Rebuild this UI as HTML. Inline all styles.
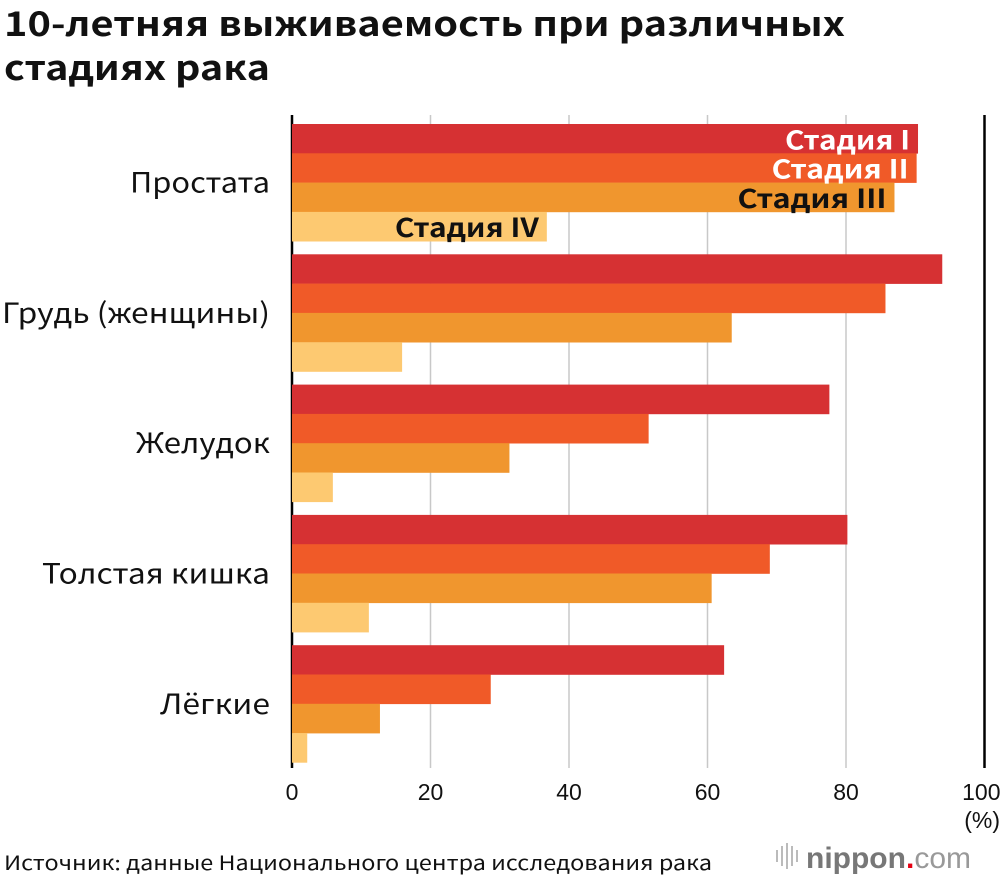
<!DOCTYPE html>
<html><head><meta charset="utf-8"><style>
body{margin:0;background:#fff;font-family:"Liberation Sans","DejaVu Sans",sans-serif;}
#wrap{position:relative;width:1000px;height:880px;overflow:hidden}
.n{font-family:"Noto Sans CJK JP","DejaVu Sans",sans-serif}
</style></head><body>
<div id="wrap">
<svg id="svg" width="1000" height="880">
<text class="n" x="4" y="36" font-size="34" font-weight="bold" fill="#111" textLength="841" lengthAdjust="spacingAndGlyphs">10-летняя выживаемость при различных</text>
<text class="n" x="4" y="80" font-size="34" font-weight="bold" fill="#111" textLength="266" lengthAdjust="spacingAndGlyphs">стадиях рака</text>
<g id="grid"></g><g id="bars"></g><g id="labels"></g>
<text class="n" x="4" y="870" font-size="20" fill="#111" textLength="708" lengthAdjust="spacingAndGlyphs">Источник: данные Национального центра исследования рака</text>
<g>
<rect x="776" y="850" width="2" height="12" fill="#bbb"/><rect x="781" y="846" width="2" height="20" fill="#bbb"/><rect x="786" y="843" width="2" height="26" fill="#bbb"/><rect x="791" y="846" width="2" height="20" fill="#bbb"/><rect x="796" y="850" width="2" height="12" fill="#bbb"/>
<text x="806" y="868" font-size="30" font-weight="bold" fill="#777">nippon<tspan fill="#e60012">.</tspan><tspan font-weight="normal" fill="#999">com</tspan></text></g>
</svg></div>
<script>
const categories=["Простата","Грудь (женщины)","Желудок","Толстая кишка","Лёгкие"];
const stage1=[90.4,93.9,77.6,80.2,62.4];
const stage2=[90.2,85.7,51.5,69.0,28.7];
const stage3=[87.0,63.5,31.4,60.6,12.7];
const stage4=[36.8,15.9,5.9,11.1,2.2];
const stageNames=["Стадия I","Стадия II","Стадия III","Стадия IV"];
const ticks=[0,20,40,60,80,100];
const colors=["#d63133","#f05a28","#f0962e","#fdc971"];
const catW=[140,268,134,228,110];
const stageW=[125,137,149,144];
const NS="http://www.w3.org/2000/svg";
const x0=292,x1=984.5,top0=124,groupH=130.3,barH=29.3;
const xs=v=>x0+(x1-x0)*v/100;
function mk(t,a,p){const e=document.createElementNS(NS,t);for(const k in a)e.setAttribute(k,a[k]);p.appendChild(e);return e;}
const grid=document.getElementById('grid'),bars=document.getElementById('bars'),labels=document.getElementById('labels');
ticks.forEach(t=>{
 const l=mk('line',{x1:xs(t),x2:xs(t),y1:115,y2:768,stroke:(t===0||t===100)?'#000':'#c8c8c8','stroke-width':(t===0||t===100)?2.5:1.5},grid);
 
 
 const tx=mk('text',{x:xs(t),y:800,'font-size':23,'text-anchor':t===100?'end':'middle',fill:'#111'},labels);
 if(t===100)tx.setAttribute('x',xs(t)+16);
 tx.textContent=t;
 
 
});
const pct=mk('text',{x:1000,y:828,'font-size':23,'text-anchor':'end',fill:'#111'},labels);pct.textContent='(%)';


const series=[stage1,stage2,stage3,stage4];
categories.forEach((c,i)=>{
 const gy=top0+i*groupH;
 series.forEach((s,j)=>{
  const r=mk('rect',{x:x0,y:gy+j*barH,width:xs(s[i])-x0,height:barH+0.3,fill:colors[j]},bars);
  
  
  if(i===0){
   const t=mk('text',{x:xs(s[i])-8,y:gy+j*barH+barH-4,'font-size':26,'font-weight':'bold','text-anchor':'end',fill:j<2?'#fff':'#111',class:'n',textLength:stageW[j],lengthAdjust:'spacingAndGlyphs'},labels);
   t.textContent=stageNames[j];
   
   
  }
 });
 const lt=mk('text',{x:270,y:gy+2*barH+10,'font-size':28,'text-anchor':'end',fill:'#111',class:'n',textLength:catW[i],lengthAdjust:'spacingAndGlyphs'},labels);
 lt.textContent=c;
 
 
});
</script>
</body></html>
